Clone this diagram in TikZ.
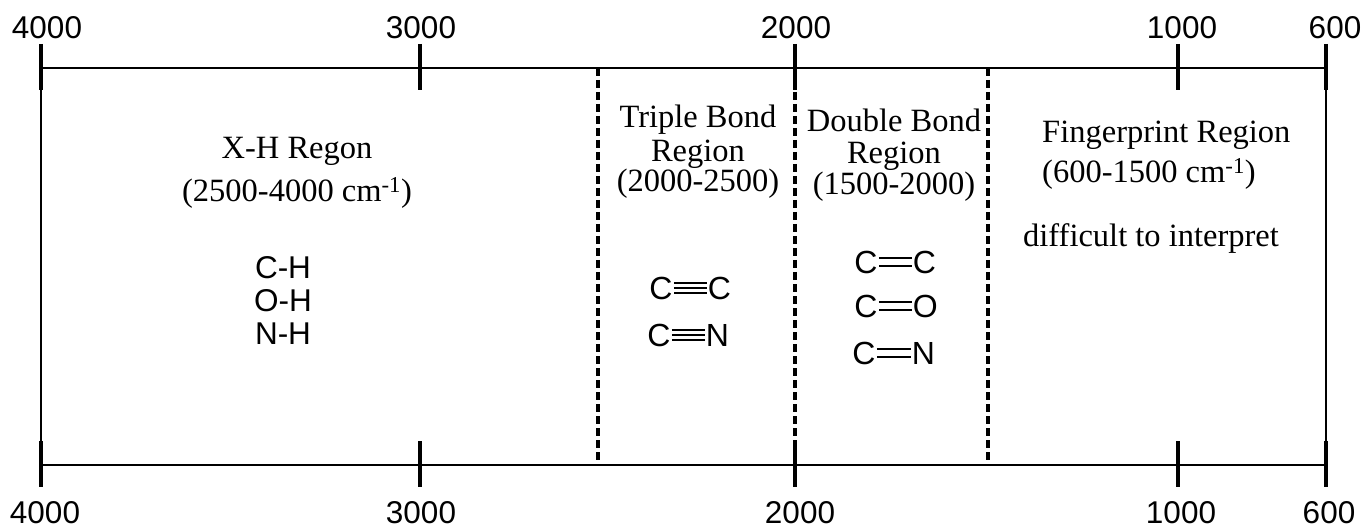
\documentclass[tikz,border=0pt]{standalone}
\usepackage{fontspec}
\setmainfont{Liberation Serif}
\setsansfont{Liberation Sans}
\usepackage{tikz}
\usetikzlibrary{positioning}

\tikzset{
  num/.style={font=\sffamily\fontsize{31.5}{31.5}\selectfont, inner sep=0pt, anchor=base},
  txt/.style={font=\fontsize{32.5}{32.5}\selectfont, inner sep=0pt, anchor=base},
  atom/.style={font=\sffamily\fontsize{32}{32}\selectfont, inner sep=1pt},
  axisline/.style={line width=2.5pt},
  tickmark/.style={line width=3.5pt},
  divider/.style={line width=3.2pt, dash pattern=on 8pt off 4pt},
  bond/.style={line width=2.4pt},
  dbond/.style={line width=2.4pt, double, double distance=5.6pt},
  tbond/.style={line width=2.4pt, double, double distance=7.6pt}
}

\begin{document}
\begin{tikzpicture}[x=1pt, y=-1pt]
  \useasboundingbox (0,0) rectangle (1367,529);

  % frame and region dividers
  \draw[axisline] (41,68) -- (1326,68);
  \draw[axisline] (41,465) -- (1326,465);
  \draw[axisline] (41,68) -- (41,465);
  \draw[axisline] (1326,68) -- (1326,465);
  \foreach \x in {598, 795, 988}
    \draw[divider] (\x,68) -- (\x,465);

  % wavenumber ticks
  \foreach \x/\val/\xa/\xb in {41/4000/47/45, 420/3000/421/421, 795/2000/796/800, 1178/1000/1182/1181, 1326/600/1335/1329}{
    \draw[tickmark] (\x,44) -- (\x,90);
    \draw[tickmark] (\x,441) -- (\x,487);
    \node[num] (top\val) at (\xa,39) {\val};
    \node[num] (bot\val) at (\xb,523) {\val};
  }

  % region titles
  \node[txt] (xh1) at (297,159) {X-H Regon};
  \node[txt] (xh2) at (297,202) {(2500-4000 cm\textsuperscript{-1})};
  \node[txt] (tb1) at (698,128) {Triple Bond};
  \node[txt] (tb2) at (698,162) {Region};
  \node[txt] (tb3) at (698,192) {(2000-2500)};
  \node[txt] (db1) at (894,132) {Double Bond};
  \node[txt] (db2) at (894,164) {Region};
  \node[txt] (db3) at (894,195) {(1500-2000)};
  \node[txt, anchor=base west] (fp1) at (1042,143) {Fingerprint Region};
  \node[txt, anchor=base west] (fp2) at (1042,183) {(600-1500 cm\textsuperscript{-1})};
  \node[txt] (fp3) at (1151,247) {difficult to interpret};

  % X-H bonds
  \node[num] (ch) at (283,278) {C-H};
  \node[num] (oh) at (283,311) {O-H};
  \node[num] (nh) at (283,344) {N-H};

  % triple bonds
  \node[atom] (cc1) at (661,288) {C};
  \node[atom, right=33pt of cc1] (cc2) {C};
  \draw[tbond] (cc1) -- (cc2);
  \draw[bond] (cc1) -- (cc2);
  \node[atom] (cn1) at (659,335) {C};
  \node[atom, right=33pt of cn1] (cn2) {N};
  \draw[tbond] (cn1) -- (cn2);
  \draw[bond] (cn1) -- (cn2);

  % double bonds
  \node[atom] (dc1) at (866,262) {C};
  \node[atom, right=33pt of dc1] (dc2) {C};
  \draw[dbond] (dc1) -- (dc2);
  \node[atom] (co1) at (866,306) {C};
  \node[atom, right=33pt of co1] (co2) {O};
  \draw[dbond] (co1) -- (co2);
  \node[atom] (dn1) at (864,353) {C};
  \node[atom, right=34pt of dn1] (dn2) {N};
  \draw[dbond] (dn1) -- (dn2);
\end{tikzpicture}
\end{document}
